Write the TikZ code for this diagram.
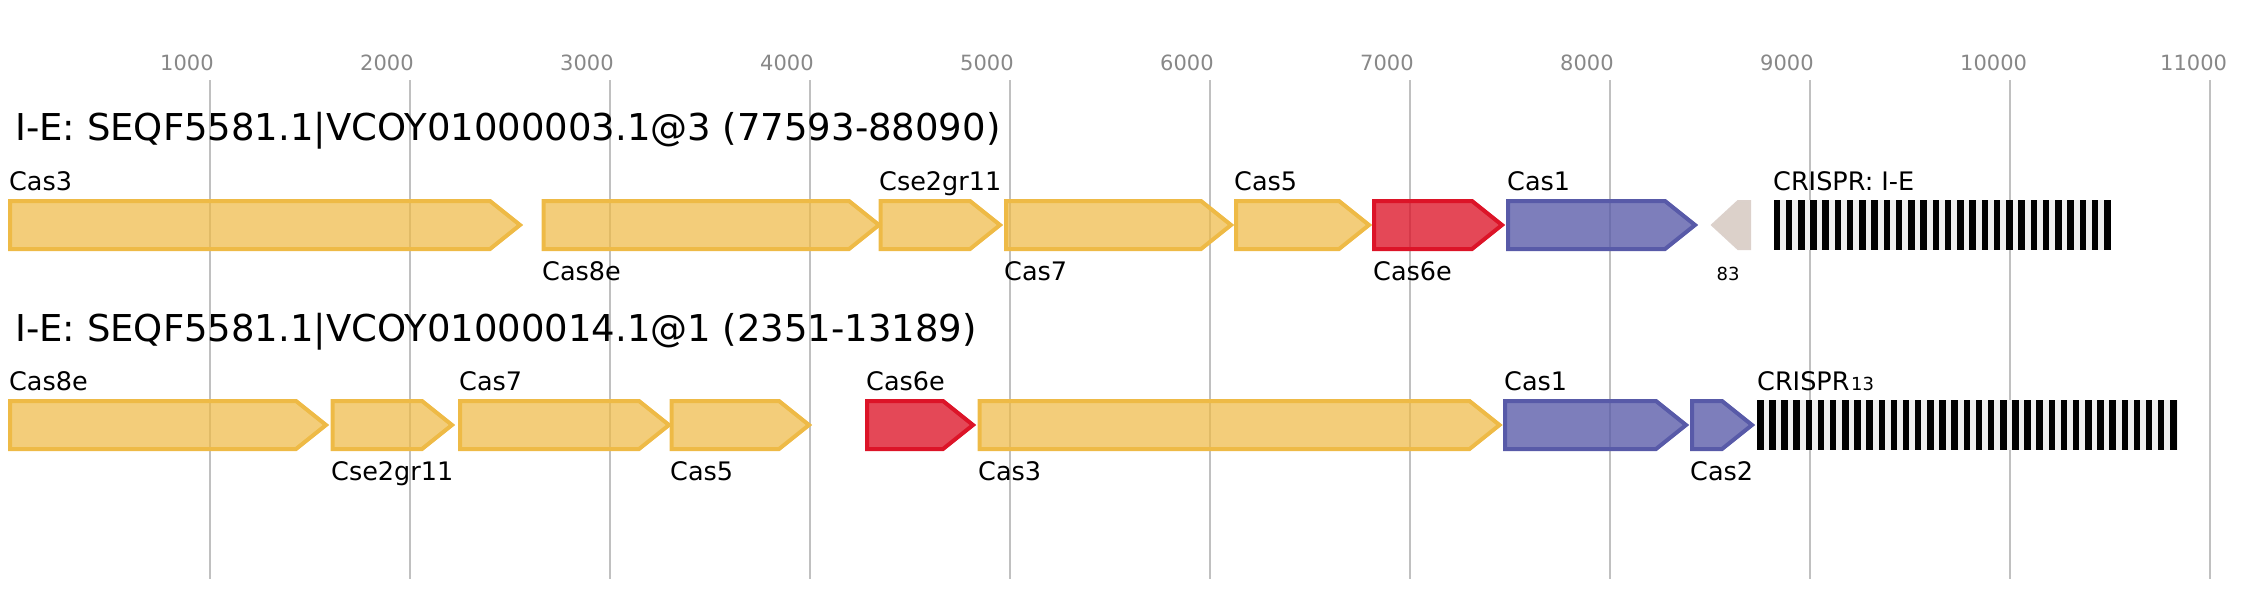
\documentclass[tikz,border=0pt]{standalone}
\usepackage{fontspec}
\setmainfont{DejaVu Sans}
\usepackage{tikz}
\definecolor{amarelo}{RGB}{238,186,70}
\definecolor{vermelho}{RGB}{220,20,40}
\definecolor{azulcas}{RGB}{88,90,168}
\definecolor{bege}{RGB}{205,190,180}
\definecolor{grade}{RGB}{192,192,192}
\definecolor{cinza}{RGB}{136,136,136}
\definecolor{fundo}{RGB}{238,238,238}
% seta de gene: inicio, ponta, centro, estilo
\newcommand{\gene}[4]{\draw[#4] (#1,#3-24) -- ({#2-30},#3-24) -- (#2,#3) -- ({#2-30},#3+24) -- (#1,#3+24) -- cycle;}

\begin{document}
\begin{tikzpicture}[x=1pt,y=-1pt,
    rotulo/.style={anchor=base west,inner sep=0pt,font=\fontsize{25.5}{30}\selectfont},
    titulo/.style={anchor=base west,inner sep=0pt,font=\fontsize{37}{44}\selectfont},
    escala/.style={anchor=base west,inner sep=0pt,text=cinza,font=\fontsize{21}{25}\selectfont},
    pequeno/.style={inner sep=0pt,font=\fontsize{18}{22}\selectfont},
    genamarelo/.style={line width=4pt,draw=amarelo,fill=amarelo,fill opacity=0.72},
    genvermelho/.style={line width=4pt,draw=vermelho,fill=vermelho,fill opacity=0.78},
    genazul/.style={line width=4pt,draw=azulcas,fill=azulcas,fill opacity=0.78},
    genbege/.style={line width=2pt,draw=bege!70,fill=bege,fill opacity=0.7}]
    \useasboundingbox (0,0) rectangle (2268,600);

    % grade e escala
    \foreach \k in {1,...,11}{
        \draw[grade,line width=2pt] (10+200*\k,80) -- (10+200*\k,579);
        \node[escala] (t\k) at (10+200*\k-50,70) {\k000};
    }

    % linha 1
    \node[titulo] (titulo1) at (15,140) {I-E: SEQF5581.1|VCOY01000003.1@3 (77593-88090)};
    \gene{10}{520}{225}{genamarelo}
    \gene{543.5}{879}{225}{genamarelo}
    \gene{880.5}{1000}{225}{genamarelo}
    \gene{1006}{1231}{225}{genamarelo}
    \gene{1236}{1369}{225}{genamarelo}
    \gene{1374}{1502}{225}{genvermelho}
    \gene{1508}{1695}{225}{genazul}
    \draw[genbege] (1750,201) -- (1738,201) -- (1712,225) -- (1738,249) -- (1750,249) -- cycle;
    \fill[fundo] (1773.5,200) rectangle (2110,250);
    \foreach \i in {0,...,27}
        \fill (1773.5+12.24*\i,200) rectangle (1780+12.24*\i,250);
    \node[rotulo] (l1cas3) at (9,190) {Cas3};
    \node[rotulo] (l1cas8e) at (542,280) {Cas8e};
    \node[rotulo] (l1cse) at (879,190) {Cse2gr11};
    \node[rotulo] (l1cas7) at (1004,280) {Cas7};
    \node[rotulo] (l1cas5) at (1234,190) {Cas5};
    \node[rotulo] (l1cas6e) at (1373,280) {Cas6e};
    \node[rotulo] (l1cas1) at (1507,190) {Cas1};
    \node[pequeno,anchor=base] (l1n) at (1728,280) {83};
    \node[rotulo] (l1crispr) at (1773,190) {CRISPR: I-E};

    % linha 2
    \begin{scope}[shift={(0,200)}]
        \node[titulo] (titulo2) at (15,141) {I-E: SEQF5581.1|VCOY01000014.1@1 (2351-13189)};
        \gene{10}{326}{225}{genamarelo}
        \gene{332.5}{452}{225}{genamarelo}
        \gene{460}{669}{225}{genamarelo}
        \gene{671.5}{809}{225}{genamarelo}
        \gene{867}{973}{225}{genvermelho}
        \gene{979.5}{1499.5}{225}{genamarelo}
        \gene{1505}{1686}{225}{genazul}
        \gene{1692}{1752}{225}{genazul}
        \fill[fundo] (1757,200) rectangle (2178,250);
        \foreach \i in {0,...,34}
            \fill (1757+12.15*\i,200) rectangle (1763.5+12.15*\i,250);
        \node[rotulo] (l2cas8e) at (9,190) {Cas8e};
        \node[rotulo] (l2cse) at (331,280) {Cse2gr11};
        \node[rotulo] (l2cas7) at (459,190) {Cas7};
        \node[rotulo] (l2cas5) at (670,280) {Cas5};
        \node[rotulo] (l2cas6e) at (866,190) {Cas6e};
        \node[rotulo] (l2cas3) at (978,280) {Cas3};
        \node[rotulo] (l2cas1) at (1504,190) {Cas1};
        \node[rotulo] (l2cas2) at (1690,280) {Cas2};
        \node[rotulo] (l2crispr) at (1757,190) {CRISPR};
        \node[pequeno,anchor=base west] (l2n) at (1851,190) {13};
    \end{scope}
\end{tikzpicture}
\end{document}
